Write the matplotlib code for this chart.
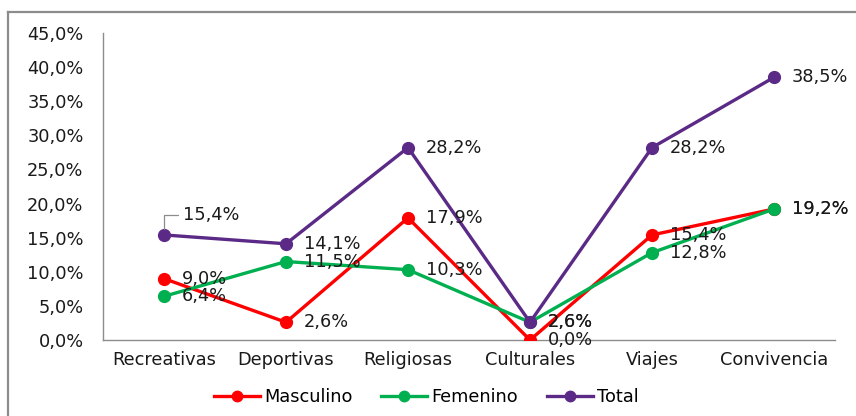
import matplotlib
matplotlib.use("Agg")
import matplotlib.pyplot as plt
from matplotlib.lines import Line2D
from matplotlib.ticker import FuncFormatter, MultipleLocator

plt.rcParams['font.family'] = ['DejaVu Sans']

categories = ["Recreativas", "Deportivas", "Religiosas", "Culturales", "Viajes", "Convivencia"]
masculino = [9.0, 2.6, 17.9, 0.0, 15.4, 19.2]
femenino = [6.4, 11.5, 10.3, 2.6, 12.8, 19.2]
total = [15.4, 14.1, 28.2, 2.6, 28.2, 38.5]

series = [
    ("Masculino", masculino, "#FF0000"),
    ("Femenino", femenino, "#00B050"),
    ("Total", total, "#5B2A86"),
]

FS = 12.8
fig = plt.figure(figsize=(8.56, 4.16), dpi=100)
ax = fig.add_axes([0.1203, 0.1827, 0.8552, 0.738])

x = list(range(len(categories)))


def pct(v):
    return f"{v:.1f}".replace(".", ",") + "%"


for name, vals, col in series:
    ax.plot(x, vals, color=col, lw=2.4, marker="o", ms=8.5,
            solid_joinstyle="round", label=name, zorder=3)

for name, vals, col in series:
    for i, v in enumerate(vals):
        if name == "Total" and i == 0:
            ax.annotate(pct(v), xy=(i, v), xytext=(14, 14), textcoords="offset points",
                        ha="left", va="center", fontsize=FS, color="#1a1a1a",
                        arrowprops=dict(arrowstyle="-", color="#8c8c8c", lw=0.9,
                                        connectionstyle="angle,angleA=0,angleB=90,rad=0",
                                        shrinkA=2, shrinkB=4))
        else:
            ax.annotate(pct(v), xy=(i, v), xytext=(13, 0), textcoords="offset points",
                        ha="left", va="center", fontsize=FS, color="#1a1a1a", zorder=4)

ax.set_xlim(-0.5, len(categories) - 0.5)
ax.set_ylim(0, 45)
ax.yaxis.set_major_locator(MultipleLocator(5))
ax.yaxis.set_major_formatter(FuncFormatter(lambda v, p: pct(v)))
ax.set_xticks(x)
ax.set_xticklabels(categories)
ax.tick_params(axis="both", length=0, labelsize=FS, colors="#1a1a1a")
ax.tick_params(axis="y", pad=14)
ax.tick_params(axis="x", pad=8)

for s in ["top", "right"]:
    ax.spines[s].set_visible(False)
for s in ["left", "bottom"]:
    ax.spines[s].set_color("#8c8c8c")
    ax.spines[s].set_linewidth(1.0)

handles = [Line2D([0], [0], color=c, lw=2.4, marker="o", ms=7.5) for _, _, c in series]
fig.legend(handles, [n for n, _, _ in series], loc="center", bbox_to_anchor=(0.498, 0.046),
           ncol=3, frameon=False, fontsize=FS, handlelength=2.6, columnspacing=1.6,
           handletextpad=0.25)

# outer chart frame (left and top edges)
fig.add_artist(Line2D([8 / 856, 8 / 856], [0, 1 - 12 / 416], transform=fig.transFigure,
                      color="#8c8c8c", lw=1.6))
fig.add_artist(Line2D([8 / 856, 1], [1 - 12 / 416, 1 - 12 / 416], transform=fig.transFigure,
                      color="#8c8c8c", lw=1.6))

fig.savefig("out.png", dpi=100, facecolor="white")
